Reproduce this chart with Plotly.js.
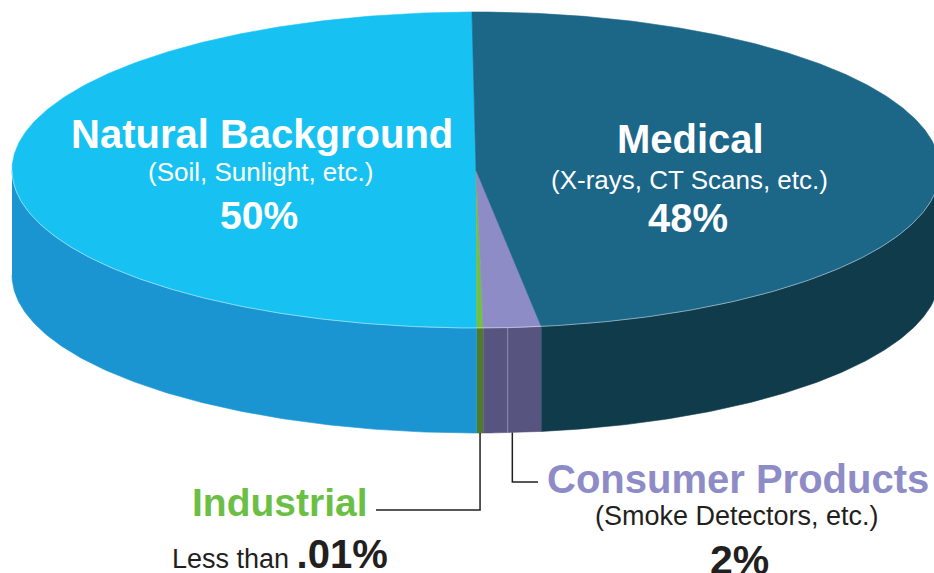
<!DOCTYPE html>
<html>
<head>
<meta charset="utf-8">
<script src="https://cdn.plot.ly/plotly-3.0.1.min.js"></script>
<style>html,body{margin:0;padding:0;background:#fff;}#chart{width:934px;height:573px;}</style>
</head>
<body>
<div id="chart"></div>
<script>
// ---- data ----
const categories = ['Natural Background', 'Industrial', 'Consumer Products', 'Medical'];
const percents = [50, 0.01, 2, 48];
const subtitles = ['(Soil, Sunlight, etc.)', '', '(Smoke Detectors, etc.)', '(X-rays, CT Scans, etc.)'];
const valueLabels = ['50%', '.01%', '2%', '48%'];
const topColors = ['#17c2f3', '#72c045', '#8e8cc7', '#1c6688'];
const sideColors = ['#1a95d2', '#4f7a2b', '#575580', '#0f3b4b'];

// ---- geometry (styling) ----
const cx = 476, cy = 170, a = 464, b = 158, depth = 105;
const startDeg = 90.5, minSweep = 0.8;
const FONT = 'Liberation Sans, Arial, Helvetica, sans-serif';

const total = percents.reduce((s, v) => s + v, 0);
let sweeps = percents.map(v => Math.max(v / total * 360, minSweep));
const sSum = sweeps.reduce((s, v) => s + v, 0);
sweeps = sweeps.map(v => v * 360 / sSum);
const starts = [];
let acc = startDeg;
sweeps.forEach(s => { starts.push(acc); acc += s; });

const rad = d => d * Math.PI / 180;
const px = t => cx + a * Math.cos(rad(t));
const py = t => cy - b * Math.sin(rad(t));
function arc(t1, t2, off) {
  const n = Math.max(2, Math.ceil(Math.abs(t2 - t1) / 0.5));
  const xs = [], ys = [];
  for (let i = 0; i <= n; i++) {
    const t = t1 + (t2 - t1) * i / n;
    xs.push(px(t)); ys.push(py(t) + (off || 0));
  }
  return [xs, ys];
}

const traces = [];
// sides
categories.forEach((c, i) => {
  const t1 = starts[i], t2 = starts[i] + sweeps[i];
  [[180, 360], [540, 720]].forEach(([lo, hi]) => {
    const s = Math.max(t1, lo), e = Math.min(t2, hi);
    if (e > s) {
      const [x1, y1] = arc(s, e, 0);
      const [x2, y2] = arc(e, s, depth);
      traces.push({
        type: 'scatter', mode: 'lines', x: x1.concat(x2), y: y1.concat(y2),
        fill: 'toself', fillcolor: sideColors[i], line: {color: sideColors[i], width: 0.6},
        hoverinfo: 'skip', showlegend: false
      });
    }
  });
});
// faint seam inside the consumer side panel
{
  const t = starts[2] + sweeps[2] * 0.42;
  traces.push({type: 'scatter', mode: 'lines', x: [px(t), px(t)], y: [py(t), py(t) + depth],
    line: {color: 'rgba(190,190,220,0.55)', width: 1}, hoverinfo: 'skip', showlegend: false});
}
// tops
categories.forEach((c, i) => {
  const t1 = starts[i], t2 = starts[i] + sweeps[i];
  const [xs, ys] = arc(t1, t2, 0);
  traces.push({
    type: 'scatter', mode: 'lines', x: [cx].concat(xs, [cx]), y: [cy].concat(ys, [cy]),
    fill: 'toself', fillcolor: topColors[i], line: {color: topColors[i], width: 0.6},
    name: c, hoverinfo: 'name', showlegend: false
  });
});
// rim highlight
{
  const [xs, ys] = arc(180, 360, 0);
  traces.push({type: 'scatter', mode: 'lines', x: xs, y: ys,
    line: {color: 'rgba(255,255,255,0.45)', width: 1}, hoverinfo: 'skip', showlegend: false});
}
// leader lines
const mid = i => starts[i] + sweeps[i] / 2;
const indT = mid(1), conT = mid(2);
traces.push({type: 'scatter', mode: 'lines',
  x: [px(indT), px(indT), 376], y: [py(indT) + depth, 510, 510],
  line: {color: '#231f20', width: 1.5}, hoverinfo: 'skip', showlegend: false});
traces.push({type: 'scatter', mode: 'lines',
  x: [px(conT), px(conT), 538], y: [py(conT) + depth, 482, 482],
  line: {color: '#231f20', width: 1.5}, hoverinfo: 'skip', showlegend: false});

function ann(text, x, y, size, color, bold) {
  return {text: bold ? '<b>' + text + '</b>' : text, x: x, y: y, xref: 'x', yref: 'y',
    xanchor: 'center', yanchor: 'middle', showarrow: false,
    font: {family: FONT, size: size, color: color}};
}
const annotations = [
  ann(categories[0], 262, 134, 40, '#ffffff', true),
  ann(subtitles[0], 260, 172, 26, '#ffffff', false),
  ann(valueLabels[0], 259, 215, 39, '#ffffff', true),
  ann(categories[3], 690, 139, 40, '#ffffff', true),
  ann(subtitles[3], 689, 180, 26, '#ffffff', false),
  ann(valueLabels[3], 688, 218, 40, '#ffffff', true),
  ann(categories[1], 280, 502, 39, '#6cbf45', true),
  ann('Less than <b><span style="font-size:40px">' + valueLabels[1] + '</span></b>', 280, 554, 27, '#231f20', false),
  ann(categories[2], 738, 479, 40, '#8e8cc7', true),
  ann(subtitles[2], 737, 516, 27, '#231f20', false),
  ann(valueLabels[2], 739, 560, 41, '#231f20', true)
];

const layout = {
  width: 934, height: 573,
  margin: {l: 0, r: 0, t: 0, b: 0},
  paper_bgcolor: '#ffffff', plot_bgcolor: '#ffffff',
  xaxis: {range: [0, 934], visible: false, fixedrange: true},
  yaxis: {range: [573, 0], visible: false, fixedrange: true},
  annotations: annotations,
  showlegend: false
};
Plotly.newPlot('chart', traces, layout, {displayModeBar: false, staticPlot: true});
</script>
</body>
</html>
